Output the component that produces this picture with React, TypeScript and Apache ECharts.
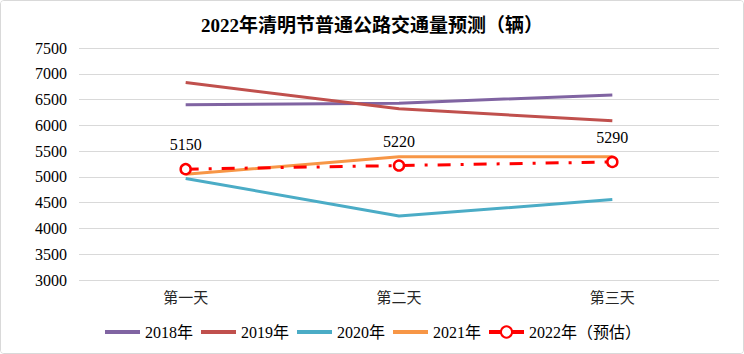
import React, { useEffect, useRef } from "react";
import * as echarts from "echarts";

const categories = ["第一天", "第二天", "第三天"];
const seriesNames = ["2018年", "2019年", "2020年", "2021年", "2022年（预估）"];
const v2018 = [6400, 6430, 6590];
const v2019 = [6830, 6320, 6090];
const v2020 = [4970, 4240, 4560];
const v2021 = [5050, 5390, 5390];
const v2022 = [5150, 5220, 5290];
const colors = ["#8064A2", "#C0504D", "#4BACC6", "#F79646", "#FF0000"];

const FONT = "'Liberation Serif', 'Noto Sans CJK SC', serif";

export default function App() {
  const ref = useRef<HTMLDivElement>(null);
  useEffect(() => {
    document.body.style.margin = "0";
    const chart = echarts.init(ref.current!, undefined, { renderer: "svg" });
    const plain = (name: string, data: number[], color: string) => ({
      name,
      type: "line",
      data,
      symbol: "circle",
      symbolSize: 0,
      showSymbol: false,
      lineStyle: { color, width: 3 },
      itemStyle: { color: "rgba(0,0,0,0)", borderWidth: 0 },
    });
    chart.setOption({
      animation: false,
      backgroundColor: "#fff",
      title: {
        text: "2022年清明节普通公路交通量预测（辆）",
        left: "center",
        top: 10,
        textStyle: { fontFamily: FONT, fontSize: 19, fontWeight: "bold", color: "#000" },
      },
      grid: { left: 78, right: 24, top: 47, bottom: 73 },
      xAxis: {
        type: "category",
        data: categories,
        boundaryGap: true,
        axisLine: { show: false },
        axisTick: { show: false },
        axisLabel: { fontFamily: FONT, fontSize: 15, color: "#262626", margin: 10 },
      },
      yAxis: {
        type: "value",
        min: 3000,
        max: 7500,
        interval: 500,
        axisLine: { show: false },
        axisTick: { show: false },
        splitLine: { lineStyle: { color: "#d9d9d9", width: 1 } },
        axisLabel: {
          fontFamily: FONT,
          fontSize: 16,
          color: "#000",
          margin: 12,
          formatter: (v: number) => String(v),
        },
      },
      legend: {
        left: "center",
        top: 318,
        itemWidth: 35,
        itemHeight: 14,
        itemGap: 6,
        lineStyle: { width: 4 },
        textStyle: { fontFamily: FONT, fontSize: 16, color: "#000" },
        data: [
          seriesNames[0],
          seriesNames[1],
          seriesNames[2],
          seriesNames[3],
          { name: seriesNames[4], lineStyle: { type: "solid", width: 4 } },
        ],
      },
      series: [
        plain(seriesNames[0], v2018, colors[0]),
        plain(seriesNames[1], v2019, colors[1]),
        plain(seriesNames[2], v2020, colors[2]),
        plain(seriesNames[3], v2021, colors[3]),
        {
          name: seriesNames[4],
          type: "line",
          data: v2022,
          symbol: "circle",
          symbolSize: 10,
          showAllSymbol: true,
          lineStyle: { color: colors[4], width: 3, type: [13, 10, 3, 10] },
          itemStyle: { color: "#fff", borderColor: colors[4], borderWidth: 2.5 },
          label: {
            show: true,
            position: "top",
            distance: 10,
            fontFamily: FONT,
            fontSize: 16,
            color: "#000",
          },
          z: 5,
        },
      ],
    });
    return () => chart.dispose();
  }, []);
  return (
    <div
      style={{
        position: "absolute",
        left: 0,
        top: 0,
        width: 744,
        height: 354,
        boxSizing: "border-box",
        border: "1px solid #d9d9d9",
        borderRadius: 4,
        overflow: "hidden",
      }}
    >
      <div ref={ref} style={{ width: 742, height: 352 }} />
    </div>
  );
}
